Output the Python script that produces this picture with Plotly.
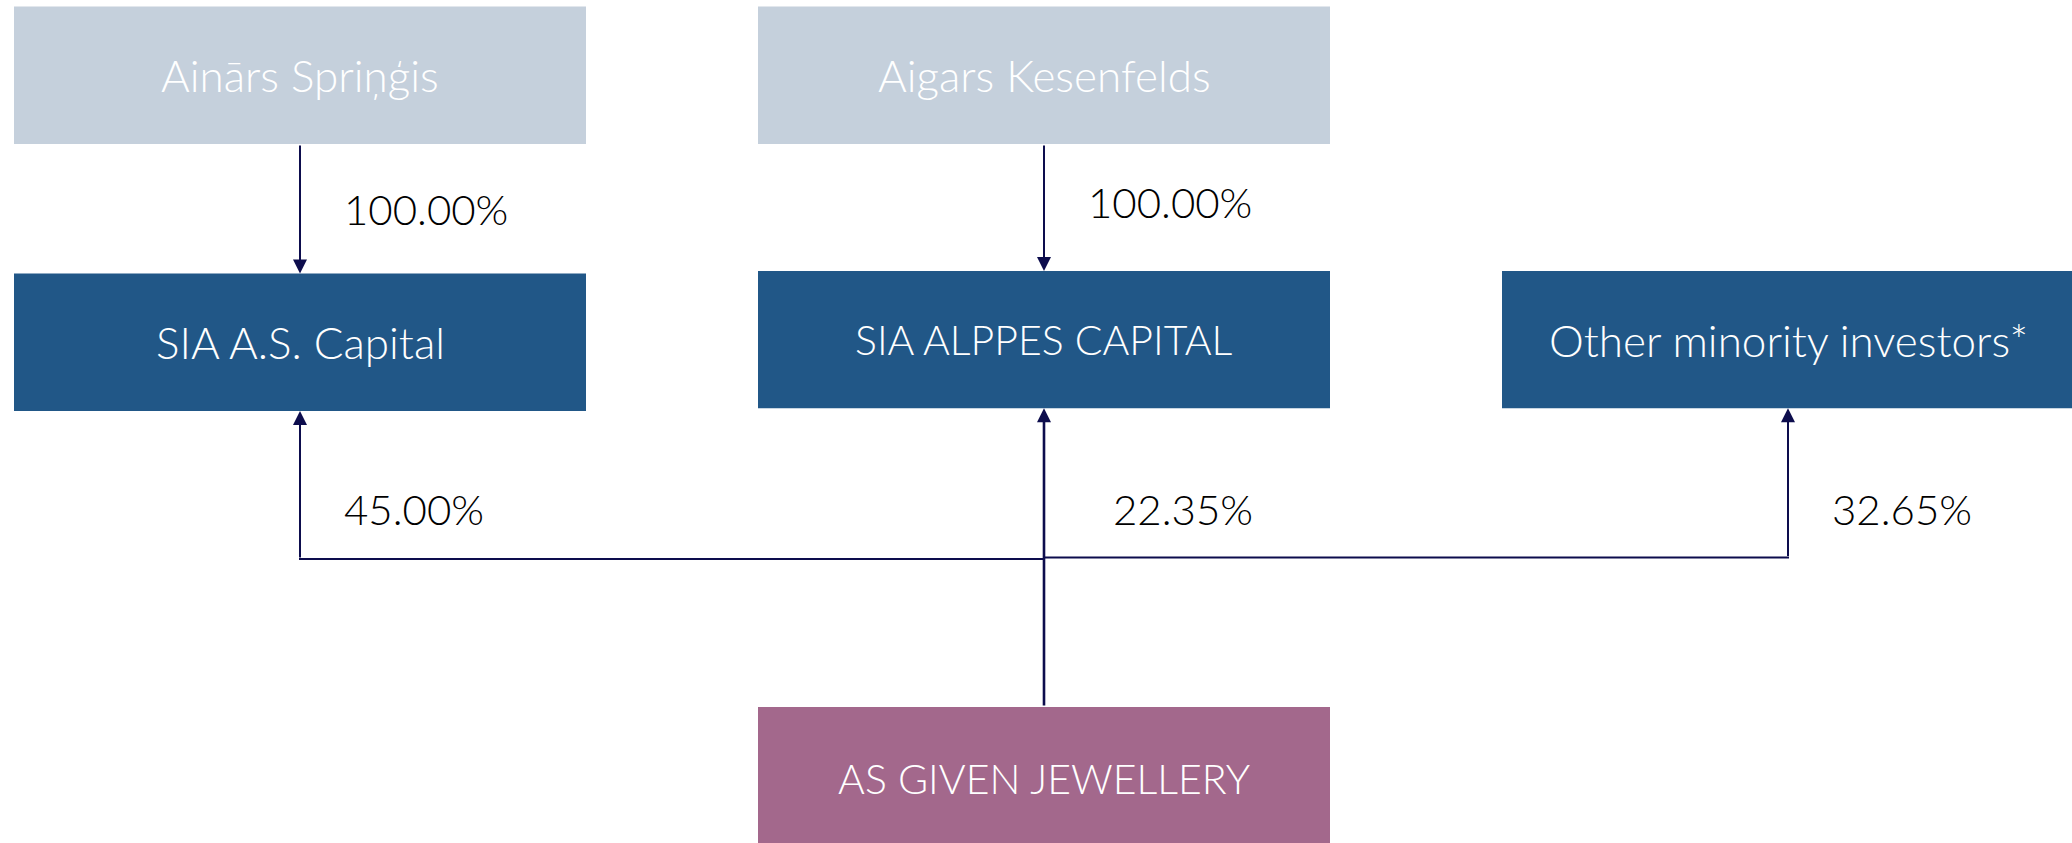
import plotly.graph_objects as go

# ---- data ----
owners_top = ["Ainārs Spriņģis", "Aigars Kesenfelds"]
holding_cos = ["SIA A.S. Capital", "SIA ALPPES CAPITAL", "Other minority investors*"]
company = "AS GIVEN JEWELLERY"
top_pct = ["100.00%", "100.00%"]
company_pct = ["45.00%", "22.35%", "32.65%"]

# ---- layout geometry (pixels) ----
W, H = 2072, 843
col_x = [300, 1044, 1788]          # column centres
box_w = 572
row1 = (6.6, 144)
row2 = [(273.5, 411), (271, 408.3), (271, 408.3)]
row3 = (707, 850)
hline_y = [559, 557.6]

C_TOP = "#C5D0DC"
C_MID = "#215787"
C_BOT = "#A3688C"
C_LINE = "#0D0D4D"
FONT = "Lato"
FS_PCT = 42

fig = go.Figure()
fig.add_trace(go.Scatter(x=[0, W], y=[0, H], mode="markers",
                         marker=dict(opacity=0), hoverinfo="skip", showlegend=False))

shapes = []
annotations = []

def box(cx, y0, y1, color, label, ty=None):
    shapes.append(dict(type="rect", xref="x", yref="y",
                       x0=cx - box_w / 2, x1=cx + box_w / 2, y0=y0, y1=y1,
                       fillcolor=color, line=dict(width=0), layer="below"))
    fs = 41 if label.isupper() else 44
    annotations.append(dict(x=cx, y=ty if ty is not None else (y0 + y1) / 2,
                            xref="x", yref="y", text=label, showarrow=False,
                            font=dict(family=FONT, size=fs, color="white", weight=300),
                            xanchor="center", yanchor="middle"))

def arrow(x, y_tail, y_head, w=2):
    annotations.append(dict(x=x, y=y_head, ax=x, ay=y_tail, xref="x", yref="y",
                            axref="x", ayref="y", text="", showarrow=True,
                            arrowhead=2, arrowsize=1.4 * 2 / w, arrowwidth=w,
                            arrowcolor=C_LINE, standoff=0, startstandoff=0))

def pct(x, y, txt):
    annotations.append(dict(x=x, y=y, xref="x", yref="y", text=txt, showarrow=False,
                            font=dict(family=FONT, size=FS_PCT, color="#000000", weight=300),
                            xanchor="left", yanchor="middle"))

# top owners
for i, name in enumerate(owners_top):
    box(col_x[i], row1[0], row1[1], C_TOP, name)
# holding companies
for i, name in enumerate(holding_cos):
    box(col_x[i], row2[i][0], row2[i][1], C_MID, name)
# company
box(col_x[1], row3[0], row3[1], C_BOT, company, ty=778)

# top arrows
arrow(col_x[0], row1[1], row2[0][0])
arrow(col_x[1], row1[1], row2[1][0])
# bottom arrows
arrow(col_x[0], hline_y[0], row2[0][1])
arrow(col_x[1], row3[0], row2[1][1], w=2.6)
arrow(col_x[2], hline_y[1], row2[2][1])
# horizontal connectors
shapes.append(dict(type="line", xref="x", yref="y", x0=col_x[0] - 1, x1=col_x[1],
                   y0=hline_y[0], y1=hline_y[0], line=dict(color=C_LINE, width=2)))
shapes.append(dict(type="line", xref="x", yref="y", x0=col_x[1], x1=col_x[2] + 1,
                   y0=hline_y[1], y1=hline_y[1], line=dict(color=C_LINE, width=2)))

# percentages
pct(342, 209, top_pct[0])
pct(1086, 202, top_pct[1])
pct(342, 509, company_pct[0])
pct(1111, 509, company_pct[1])
pct(1830, 509, company_pct[2])

fig.update_layout(
    width=W, height=H, margin=dict(l=0, r=0, t=0, b=0),
    paper_bgcolor="white", plot_bgcolor="white",
    xaxis=dict(range=[0, W], visible=False, fixedrange=True),
    yaxis=dict(range=[H, 0], visible=False, fixedrange=True),
    shapes=shapes, annotations=annotations, showlegend=False,
)
fig.write_html("out.html", config={"displayModeBar": False},
               post_script="document.body.style.margin='0';document.body.style.overflow='hidden';")
